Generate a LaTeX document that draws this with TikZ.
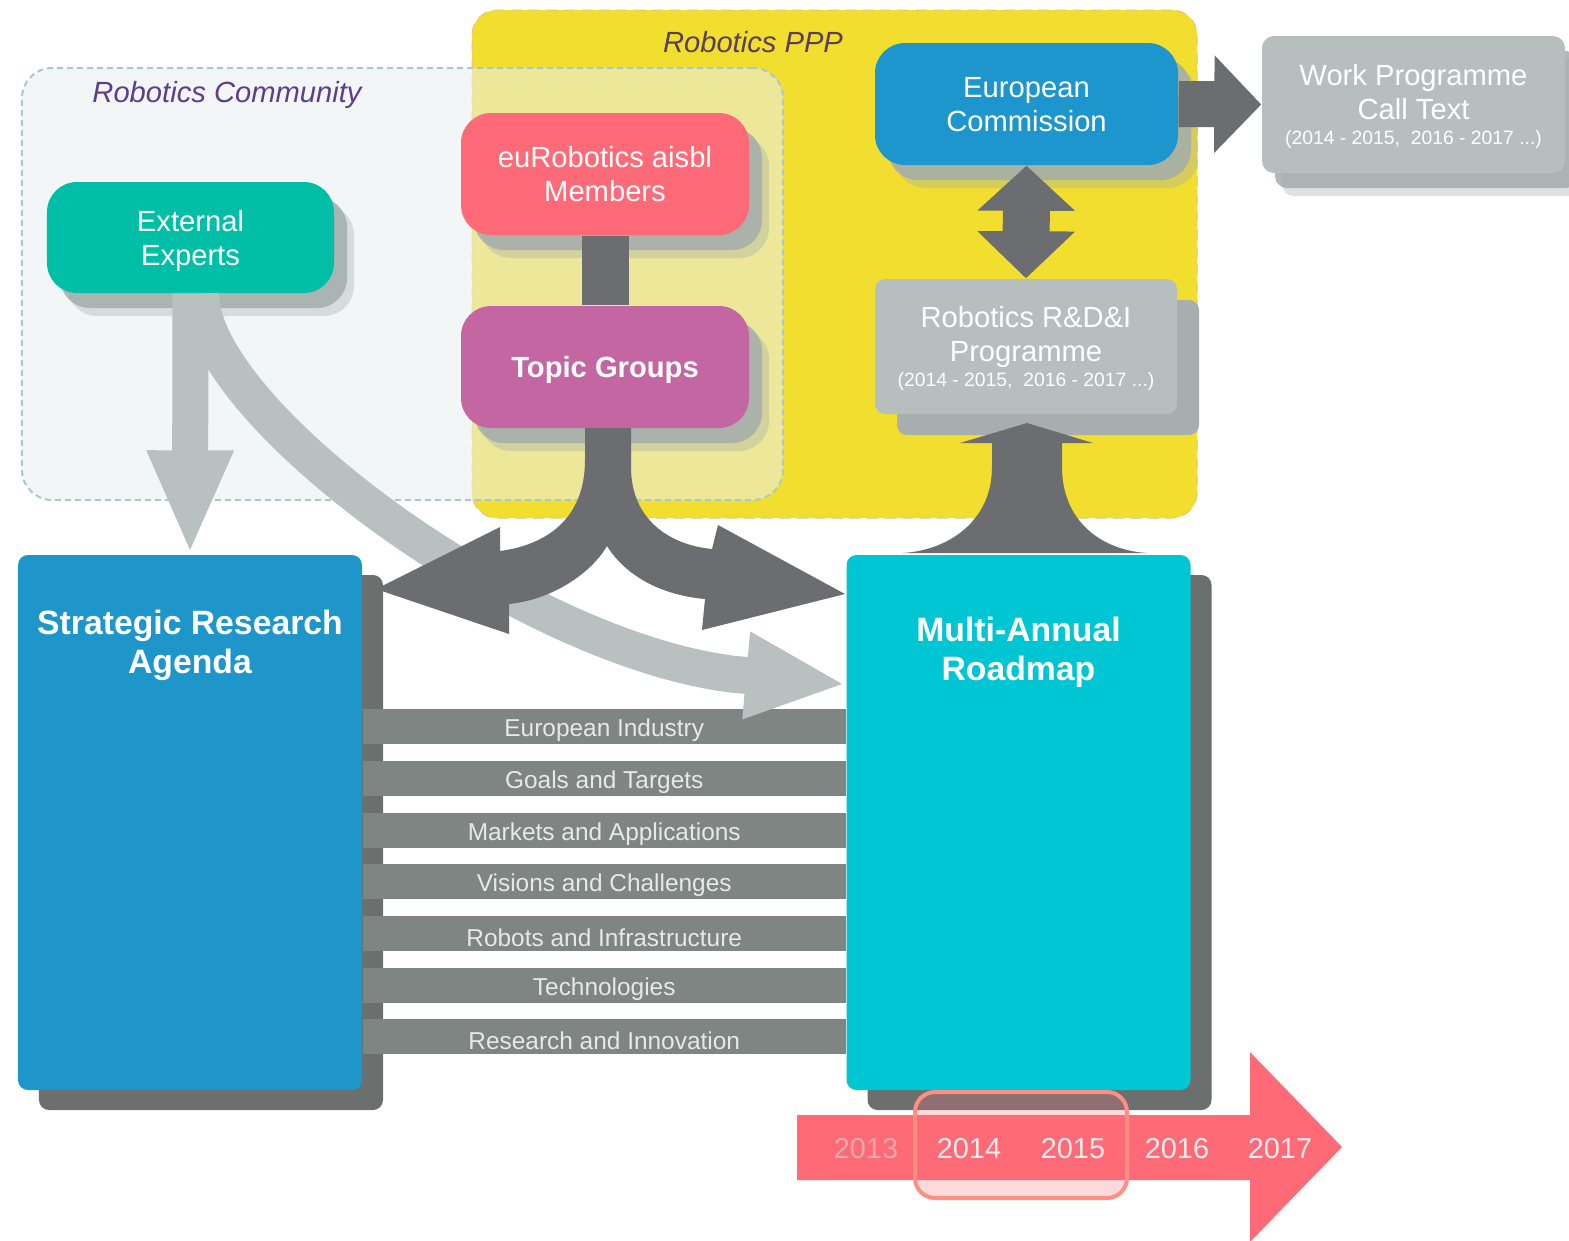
\documentclass[tikz,border=0pt]{standalone}
\usepackage{fontspec}
\setmainfont{Liberation Sans}
\usepackage{xcolor}
\usepackage{tikz}
\usetikzlibrary{calc}
\usetikzlibrary{arrows.meta}
\usetikzlibrary{shadows}
\definecolor{pppyellow}{HTML}{F1DE2E}
\definecolor{pppborder}{HTML}{E6C27A}
\definecolor{commfill}{HTML}{E9F0F2}
\definecolor{commborder}{HTML}{A8C8D2}
\definecolor{commpurple}{HTML}{5F3C8C}
\definecolor{ppppurple}{HTML}{5A3F58}
\definecolor{eeteal}{HTML}{00BFA6}
\definecolor{eurcoral}{HTML}{FE6A77}
\definecolor{tgpurple}{HTML}{C466A2}
\definecolor{ecblue}{HTML}{1C96CC}
\definecolor{boxgray}{HTML}{B6BFBE}
\definecolor{rdishadow}{HTML}{A7AEAD}
\definecolor{softshadow}{HTML}{A3ADAB}
\definecolor{darkarrow}{HTML}{6C6D71}
\definecolor{lightarrow}{HTML}{B8C1BF}
\definecolor{bandgray}{HTML}{7F8583}
\definecolor{bandtext}{HTML}{E8E8E8}
\definecolor{srablue}{HTML}{1E96CA}
\definecolor{marcyan}{HTML}{00C6D3}
\definecolor{shadowgray}{HTML}{6B706F}
\definecolor{tlcoral}{HTML}{FE6B77}
\definecolor{hlsalmon}{HTML}{FF8F83}
\definecolor{yearfaded}{HTML}{E3A9AE}
\definecolor{yeartext}{HTML}{FCECEE}
\tikzstyle{softbox}=[shape=rectangle, rounded corners=3mm, inner sep=0pt, align=center, text=white, text depth=0pt, font=\fontsize{8.3}{9.7}\selectfont, drop shadow={shadow xshift=2.0mm, shadow yshift=-2.3mm, fill=softshadow, opacity=0.35}, drop shadow={shadow xshift=1.3mm, shadow yshift=-1.5mm, fill=softshadow, opacity=0.85}]
\tikzstyle{bigbox}=[shape=rectangle, rounded corners=1mm, inner sep=0pt, minimum width=34.4mm, minimum height=53.5mm, drop shadow={shadow xshift=2.1mm, shadow yshift=-2mm, fill=shadowgray, opacity=1}]
\tikzstyle{titletext}=[text=white, align=center, inner sep=0pt, yshift=-0.5mm, font=\bfseries\fontsize{9.6}{11.1}\selectfont]
\tikzstyle{grouplabel}=[inner sep=0pt, yshift=-0.2mm, font=\itshape\fontsize{8.3}{9.7}\selectfont]
\tikzstyle{band}=[draw=bandgray, line width=3.5mm]
\tikzstyle{bandlabel}=[text=bandtext, inner sep=0pt, yshift=-0.4mm, font=\fontsize{6.95}{8}\selectfont]
\tikzstyle{yearlabel}=[text=yeartext, inner sep=0pt, yshift=-0.2mm, font=\fontsize{8.2}{9.7}\selectfont]

\begin{document}
\begin{tikzpicture}
\useasboundingbox (0,0) rectangle (15.69,-12.40);
\fill [white] (0,0) rectangle (15.69,-12.40);

% groups
\node [shape=rectangle, rounded corners=2.5mm, fill=pppyellow, draw=pppborder, densely dashed, line width=0.1mm, minimum width=72.5mm, minimum height=50.8mm] (ppp) at (8.345,-2.64) {};
\node [shape=rectangle, rounded corners=3mm, fill=commfill, fill opacity=0.55, draw=commborder, dash pattern=on 0.6mm off 0.4mm, line width=0.2mm, minimum width=76.1mm, minimum height=43.2mm] (community) at (4.025,-2.84) {};
\node [grouplabel, text=commpurple] (commlabel) at (2.27,-0.93) {Robotics Community};
\node [grouplabel, text=ppppurple] (ppplabel) at (7.53,-0.40) {Robotics PPP};

% actors
\node [softbox, fill=eeteal, minimum width=28.7mm, minimum height=11.1mm] (ee) at (1.905,-2.375) {External\\Experts};
\node [softbox, fill=eurcoral, minimum width=28.8mm, minimum height=12.2mm] (eur) at (6.05,-1.74) {euRobotics aisbl\\Members};
\node [softbox, fill=tgpurple, minimum width=28.8mm, minimum height=12.2mm, font=\bfseries\fontsize{8.3}{9.7}\selectfont] (tg) at (6.05,-3.67) {Topic Groups};
\node [softbox, fill=ecblue, minimum width=30.3mm, minimum height=12.2mm, text depth=-0.5mm] (ec) at (10.265,-1.04) {European\\Commission};
\node [softbox, fill=boxgray, rounded corners=1.2mm, minimum width=30.3mm, minimum height=13.7mm, text depth=-0.8mm] (wp) at (14.135,-1.045) {Work Programme\\Call Text\\[-2.5pt]{\fontsize{5.5}{8}\selectfont (2014 - 2015,~~2016 - 2017 ...)}};
\node [shape=rectangle, rounded corners=1mm, inner sep=0pt, align=center, text=white, text depth=-0.8mm, font=\fontsize{8.3}{9.7}\selectfont, fill=boxgray, minimum width=30.2mm, minimum height=13.5mm, drop shadow={shadow xshift=2.2mm, shadow yshift=-2.1mm, fill=rdishadow, opacity=1}] (rdi) at (10.26,-3.465) {Robotics R\&D\&I\\Programme\\[-2.5pt]{\fontsize{5.5}{8}\selectfont (2014 - 2015,~~2016 - 2017 ...)}};

\draw [line width=4.7mm, color=darkarrow] (eur.south) -- (tg.north);
\draw [-{Triangle[length=4.7mm, width=9.5mm]}, line width=4.6mm, color=darkarrow] (ec.east) -- (wp.west);
\draw [{Triangle[length=4.5mm, width=9.5mm]}-{Triangle[length=4.7mm, width=9.5mm]}, line width=4.7mm, color=darkarrow] (ec.south) -- (rdi.north);

% agenda and roadmap
\node [bigbox, fill=srablue] (sra) at (1.90,-8.225) {};
\node [bigbox, fill=marcyan] (mar) at (10.185,-8.225) {};
\node [titletext] (sratitle) at ($(sra.north)+(0,-0.865)$) {Strategic Research\\Agenda};
\node [titletext] (martitle) at ($(mar.north)+(0,-0.925)$) {Multi-Annual\\Roadmap};

\draw [band] ($(sra.north east)+(0,-1.72)$) -- node [bandlabel] {European Industry} ($(mar.north west)+(0,-1.72)$);
\draw [band] ($(sra.north east)+(0,-2.24)$) -- node [bandlabel] {Goals and Targets} ($(mar.north west)+(0,-2.24)$);
\draw [band] ($(sra.north east)+(0,-2.76)$) -- node [bandlabel] {Markets and Applications} ($(mar.north west)+(0,-2.76)$);
\draw [band] ($(sra.north east)+(0,-3.27)$) -- node [bandlabel] {Visions and Challenges} ($(mar.north west)+(0,-3.27)$);
\draw [band] ($(sra.north east)+(0,-3.79)$) -- node [bandlabel] {Robots and Infrastructure} ($(mar.north west)+(0,-3.79)$);
\draw [band] ($(sra.north east)+(0,-4.31)$) -- node [bandlabel] {Technologies} ($(mar.north west)+(0,-4.31)$);
\draw [band] ($(sra.north east)+(0,-4.82)$) -- node [bandlabel] {Research and Innovation} ($(mar.north west)+(0,-4.82)$);

% flows
\draw [-{Triangle[length=10.4mm, width=7.9mm]}, line width=3.6mm, color=lightarrow] (ee.south) -- (sra.north);
\draw [-{Triangle[length=10mm, width=8mm]}, line width=3.7mm, color=lightarrow] ($(ee.south)+(0.1,0)$) .. controls +(0,-1.2) and +(-2.1,0.25) .. ($(mar.north west)+(-1.12,-1.2)$) -- ($(mar.north west)+(0,-1.3)$);
\fill [darkarrow] (5.85,-4.28) -- (5.85,-4.60) .. controls (5.85,-5.20) and (5.45,-5.45) .. (5.00,-5.51) -- (5.00,-5.27) -- (3.76,-5.89) -- (5.09,-6.34) -- (5.09,-6.04) .. controls (5.50,-6.00) and (5.90,-5.75) .. (6.07,-5.46) .. controls (6.25,-5.75) and (6.60,-5.95) .. (7.05,-5.99) -- (7.02,-6.30) -- (8.45,-5.94) -- (7.18,-5.25) -- (7.12,-5.49) .. controls (6.70,-5.45) and (6.31,-5.20) .. (6.31,-4.67) -- (6.31,-4.28) -- cycle;
\fill [darkarrow] (9.03,-5.53) .. controls (9.50,-5.50) and (9.92,-5.20) .. (9.92,-4.67) -- (9.92,-4.43) -- (9.60,-4.43) -- (10.27,-4.23) -- (10.93,-4.43) -- (10.62,-4.43) -- (10.62,-4.67) .. controls (10.62,-5.20) and (11.00,-5.50) .. (11.47,-5.53) -- cycle;

% timeline
\fill [tlcoral] (7.97,-11.15) -- (12.50,-11.15) -- (12.50,-10.52) -- (13.42,-11.47) -- (12.50,-12.42) -- (12.50,-11.80) -- (7.97,-11.80) -- cycle;
\node [shape=rectangle, rounded corners=2mm, draw=hlsalmon, line width=0.4mm, fill=tlcoral, fill opacity=0.25, minimum width=21.2mm, minimum height=10.6mm] (hl) at (10.21,-11.45) {};
\node [yearlabel, text=yearfaded] (y2013) at (8.66,-11.47) {2013};
\node [yearlabel] (y2014) at (9.69,-11.47) {2014};
\node [yearlabel] (y2015) at (10.73,-11.47) {2015};
\node [yearlabel] (y2016) at (11.77,-11.47) {2016};
\node [yearlabel] (y2017) at (12.80,-11.47) {2017};
\end{tikzpicture}
\end{document}
